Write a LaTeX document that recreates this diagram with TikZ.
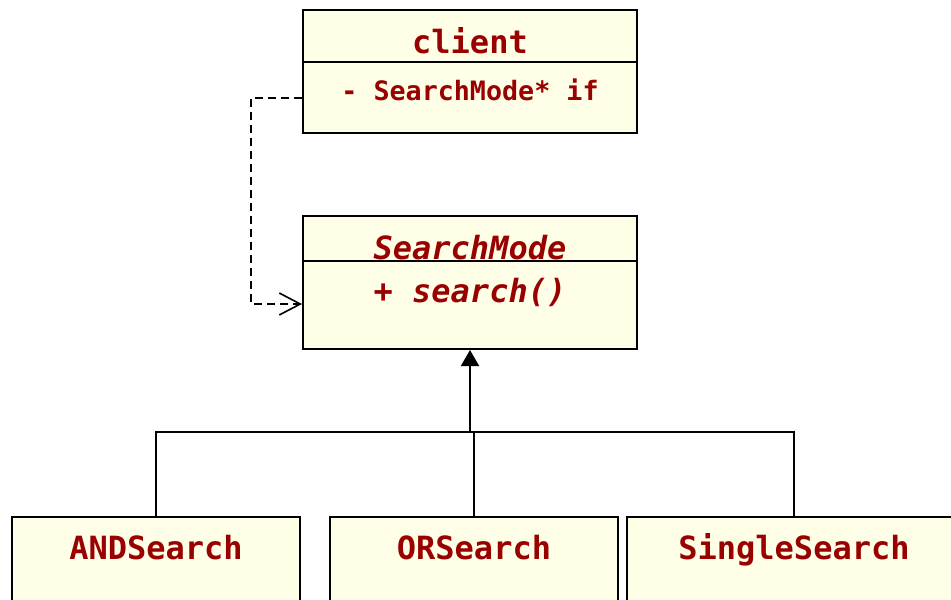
\documentclass[tikz,border=0pt]{standalone}
\usepackage{fontspec}
\setmonofont{DejaVu Sans Mono}
\usetikzlibrary{arrows.meta}

\definecolor{umlfill}{HTML}{FFFFE8}
\definecolor{umltext}{HTML}{990000}

\tikzset{
  umlbox/.style={draw=black, line width=2pt, fill=umlfill, inner sep=0pt},
  umlname/.style={text=umltext, anchor=base, inner sep=0pt,
    font=\ttfamily\bfseries\fontsize{32}{38}\selectfont},
  umlitem/.style={umlname, font=\ttfamily\bfseries\fontsize{26.7}{32}\selectfont},
  umlabstract/.style={umlname, font=\ttfamily\bfseries\itshape\fontsize{32}{38}\selectfont},
  depend/.style={dashed, dash pattern=on 8pt off 5pt, line width=1.6pt,
    -{Straight Barb[length=21pt,width=22pt,line width=1.6pt]}},
  inherit/.style={line width=1.8pt, -{Triangle[length=16pt,width=18pt]}},
  tree/.style={line width=1.6pt}
}

\begin{document}
\begin{tikzpicture}[x=1pt,y=-1pt]

\useasboundingbox (0,0) rectangle (951,600);
\clip (0,0) rectangle (951,600);

%% client class
\node[umlbox, minimum width=334pt, minimum height=123pt] (client) at (470,71.5) {};
\draw[line width=2pt] (client.west |- 0,62) -- (client.east |- 0,62);
\node[umlname] (clientname) at (470,53) {client};
\node[umlitem] (clientattr) at (470,100) {- SearchMode* if};

%% SearchMode interface
\node[umlbox, minimum width=334pt, minimum height=133pt] (mode) at (470,282.5) {};
\draw[line width=2pt] (mode.west |- 0,261) -- (mode.east |- 0,261);
\node[umlabstract] (modename) at (470,259) {SearchMode};
\node[umlabstract] (modeop) at (470,302) {+ search()};

%% concrete strategies
\node[umlbox, minimum width=288pt, minimum height=120pt, anchor=north] (andsearch) at (156,516) {};
\node[umlname] (andname) at (156,559) {ANDSearch};
\node[umlbox, minimum width=288pt, minimum height=120pt, anchor=north] (orsearch) at (474,516) {};
\node[umlname] (orname) at (474,559) {ORSearch};
\node[umlbox, minimum width=340pt, minimum height=120pt, anchor=north west] (singlesearch) at (626,516) {};
\node[umlname] (singlename) at (794,559) {SingleSearch};

%% dependency
\coordinate (depfrom) at (client.west |- 0,98);
\coordinate (depto) at (mode.west |- 0,304);
\draw[depend] (depfrom) -- ++(-51,0) |- (depto);

%% generalization
\coordinate (bar) at (470,432);
\draw[inherit] (bar) -- (mode.south -| bar);
\draw[tree] (andsearch.north) |- (bar -| singlename) -- (singlename |- singlesearch.north);
\draw[tree] (orsearch.north) -- (bar -| orsearch.north);

\end{tikzpicture}
\end{document}
